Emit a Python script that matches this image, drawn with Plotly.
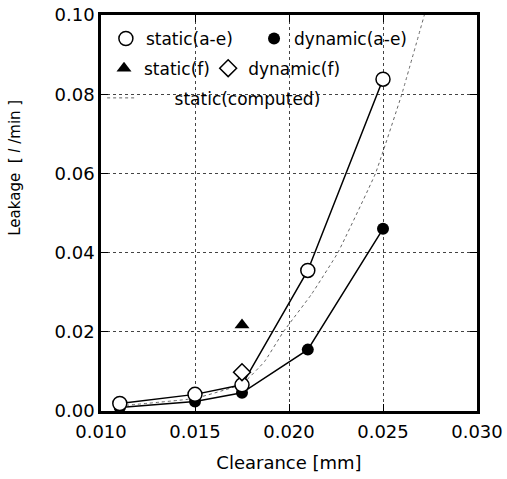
import plotly.graph_objects as go

# Data
clear_ae = [0.011, 0.015, 0.0175, 0.021, 0.025]
static_ae = [0.0019, 0.0042, 0.0066, 0.0355, 0.0838]
dynamic_ae = [0.0009, 0.0024, 0.0046, 0.0155, 0.0460]

clear_f = [0.0175]
static_f = [0.0217]
dynamic_f = [0.0098]

clear_comp = [0.011, 0.015, 0.0175, 0.0187, 0.0197, 0.0212, 0.0226, 0.0246, 0.0260, 0.0272]
static_comp = [0.0013, 0.0032, 0.0068, 0.0125, 0.0200, 0.0295, 0.0400, 0.0600, 0.0800, 0.1000]

FONT = "DejaVu Sans"
LFONT = dict(family=FONT, size=17, color="black")

fig = go.Figure()

# computed curve
fig.add_trace(go.Scatter(x=clear_comp, y=static_comp, mode="lines",
                         line=dict(color="#666", width=1, dash="dot", shape="spline", smoothing=0.3),
                         name="\u00a0" * 6 + "static(computed)", legend="legend5"))
# connecting lines
fig.add_trace(go.Scatter(x=clear_ae, y=static_ae, mode="lines",
                         line=dict(color="black", width=1.5), showlegend=False))
fig.add_trace(go.Scatter(x=clear_ae, y=dynamic_ae, mode="lines",
                         line=dict(color="black", width=1.5), showlegend=False))
# markers
fig.add_trace(go.Scatter(x=clear_ae, y=dynamic_ae, mode="markers",
                         marker=dict(symbol="circle", size=12, color="black"),
                         name="dynamic(a-e)", legend="legend2"))
fig.add_trace(go.Scatter(x=clear_ae, y=static_ae, mode="markers",
                         marker=dict(symbol="circle", size=14, color="white",
                                     line=dict(color="black", width=1.5)),
                         name="static(a-e)", legend="legend"))
fig.add_trace(go.Scatter(x=clear_f, y=static_f, mode="markers",
                         marker=dict(symbol="triangle-up", size=13, color="black"),
                         name="static(f)", legend="legend3"))
fig.add_trace(go.Scatter(x=clear_f, y=dynamic_f, mode="markers",
                         marker=dict(symbol="diamond", size=13, color="white",
                                     line=dict(color="black", width=1.5)),
                         name="dynamic(f)", legend="legend4"))

axis_common = dict(showline=True, linecolor="black", linewidth=2.5, mirror="allticks",
                   ticks="inside", ticklen=7, tickwidth=1.2, tickcolor="black",
                   showgrid=True, gridcolor="#444", griddash="dot", gridwidth=1,
                   zeroline=False, automargin=False,
                   tickfont=dict(family=FONT, size=18, color="black"))


def leg(x, y):
    return dict(orientation="v", x=x, y=y, xanchor="left", yanchor="top",
                bgcolor="rgba(0,0,0,0)", font=LFONT)


fig.update_layout(
    width=507, height=479,
    margin=dict(l=101, r=30, t=15, b=68, autoexpand=False),
    paper_bgcolor="white", plot_bgcolor="white",
    font=dict(family=FONT, color="black"),
    xaxis=dict(range=[0.010, 0.030], tickvals=[0.010, 0.015, 0.020, 0.025, 0.030],
               tickformat=".3f", ticklabelstandoff=3,
               title=dict(text="Clearance [mm]", font=dict(family=FONT, size=18), standoff=16),
               **axis_common),
    yaxis=dict(range=[0, 0.10], tickvals=[0, 0.02, 0.04, 0.06, 0.08, 0.10],
               tickformat=".2f", **axis_common),
    legend=leg(0.013, 0.985),
    legend2=leg(0.407, 0.985),
    legend3=leg(0.008, 0.91),
    legend4=leg(0.285, 0.91),
    legend5=leg(0.003, 0.835),
    annotations=[dict(text="Leakage  [ <i>l</i> /min ]", textangle=-90, showarrow=False,
                      xref="paper", yref="paper", x=-0.229, y=0.614,
                      xanchor="center", yanchor="middle",
                      font=dict(family=FONT, size=15, color="black"))],
)

fig.write_html("out.html")
